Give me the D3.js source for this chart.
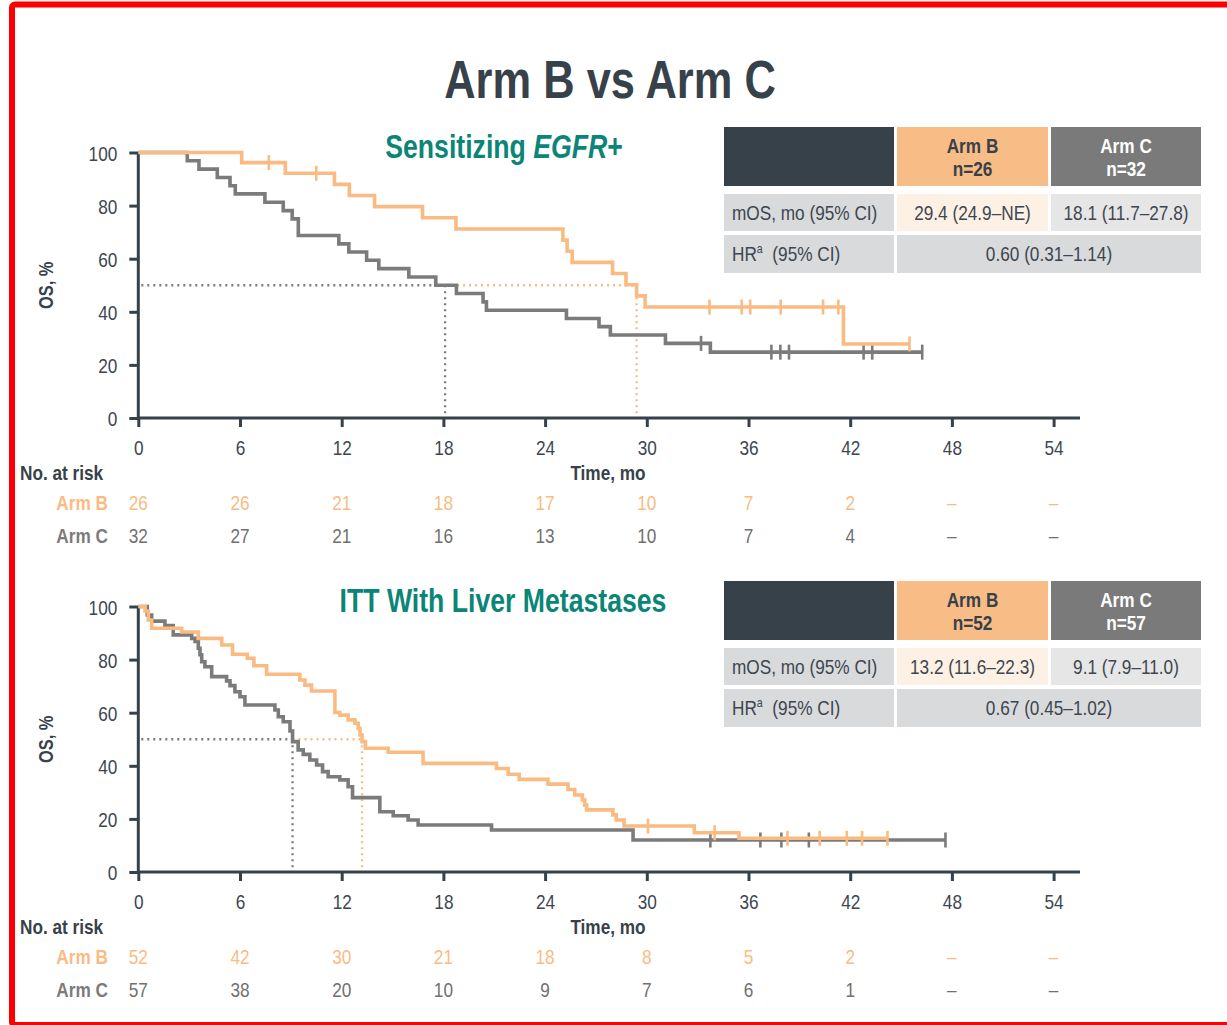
<!DOCTYPE html>
<html>
<head>
<meta charset="utf-8">
<script src="https://cdn.jsdelivr.net/npm/d3@7"></script>
<style>
  body { margin: 0; background: #fff; }
  svg { display: block; }
</style>
</head>
<body>
<svg id="chart" width="1227" height="1025"></svg>
<script>
// ---------------- data ----------------
const monthTicks = [0, 6, 12, 18, 24, 30, 36, 42, 48, 54];
const osTicks = [0, 20, 40, 60, 80, 100];

// Sensitizing EGFR+ : Kaplan-Meier steps [month, OS %]
const egfrArmB = [[0,100],[6.1,96.2],[8.67,92.2],[11.57,88.0],[12.45,83.8],[13.94,79.6],[16.77,75.4],[18.74,71.2],
  [25.05,67.0],[25.3,62.8],[25.6,58.6],[27.98,54.4],[28.77,50.2],[29.4,46.0],[29.9,41.8],[41.6,27.9],[45.5,27.9]];
const egfrArmBCensor = [7.7, 10.5, 33.7, 35.6, 36.1, 37.9, 40.4, 41.3, 45.5];
const egfrArmC = [[0,100],[2.89,96.9],[3.58,93.75],[4.66,90.6],[5.41,87.5],[5.72,84.4],[7.47,81.25],[8.55,78.1],
  [9.08,75.0],[9.44,68.75],[11.83,65.6],[12.42,62.5],[13.47,59.4],[14.19,56.25],[15.96,53.1],[17.55,50.0],
  [18.77,46.9],[20.34,43.75],[20.54,40.6],[25.26,37.5],[27.18,34.4],[27.85,31.25],[31.1,28.1],[33.75,24.8],[46.25,24.8]];
const egfrArmCCensor = [33.2, 37.35, 37.88, 38.39, 42.79, 43.3, 46.25];
const egfrRiskB = ["26", "26", "21", "18", "17", "10", "7", "2", "–", "–"];
const egfrRiskC = ["32", "27", "21", "16", "13", "10", "7", "4", "–", "–"];
const egfrN = ["n=26", "n=32"];
const egfrMOS = [29.4, 18.1];
const egfrMOSText = ["29.4 (24.9–NE)", "18.1 (11.7–27.8)"];
const egfrHR = "0.60 (0.31–1.14)";

// ITT with liver metastases : Kaplan-Meier steps [month, OS %]
const liverArmB = [[0,100],[0.4,98.3],[0.59,94.9],[0.79,91.8],[2.56,90.4],[3.54,88.0],[4.92,85.5],[5.56,82.0],
  [6.43,80.5],[6.82,77.7],[7.57,74.5],[9.53,72.3],[9.83,70.4],[10.22,68.2],[11.6,60.1],[11.89,59.1],[12.38,57.3],
  [12.78,56.0],[12.97,54.1],[13.08,51.6],[13.2,49.1],[13.4,46.6],[14.74,45.1],[16.8,40.9],[21.13,39.0],[21.82,36.8],
  [22.47,34.9],[24.17,33.1],[25.35,31.1],[25.75,29.0],[26.2,27.1],[26.34,25.2],[26.45,23.4],[28.0,21.5],[28.2,19.6],
  [28.66,17.3],[32.8,14.8],[35.44,12.7],[44.2,12.7]];
const liverArmBCensor = [30.07, 34.0, 38.3, 40.2, 41.8, 42.7, 44.2];
const liverArmC = [[0,100],[0.53,96.8],[0.79,94.5],[1.57,92.8],[2.06,89.3],[3.15,88.0],[3.35,86.8],[3.54,84.3],
  [3.64,81.8],[3.74,79.2],[3.93,77.3],[4.33,73.6],[5.21,72.0],[5.41,70.2],[5.7,67.9],[6.0,66.0],[6.29,62.9],
  [8.06,61.0],[8.26,58.5],[8.55,56.6],[8.95,53.1],[9.1,49.1],[9.43,46.0],[9.73,44.3],[10.12,42.2],[10.52,40.3],
  [10.87,37.8],[11.2,35.9],[11.89,34.7],[12.38,32.1],[12.64,28.0],[14.25,22.7],[15.04,21.2],[15.92,19.6],
  [16.51,17.7],[20.84,15.8],[29.19,12.05],[47.62,12.05]];
const liverArmCCensor = [33.75, 36.7, 37.94, 39.56, 47.62];
const liverRiskB = ["52", "42", "30", "21", "18", "8", "5", "2", "–", "–"];
const liverRiskC = ["57", "38", "20", "10", "9", "7", "6", "1", "–", "–"];
const liverN = ["n=52", "n=57"];
const liverMOS = [13.2, 9.1];
const liverMOSText = ["13.2 (11.6–22.3)", "9.1 (7.9–11.0)"];
const liverHR = "0.67 (0.45–1.02)";

// ---------------- styles ----------------
const ORANGE = "#f9bb82";
const GREY = "#7b7b7b";
const INK = "#37414a";
const TEXT = "#3d4650";
const TEAL = "#0b8577";
const FONT = "'Liberation Sans', Arial, sans-serif";
const SQUEEZE = 0.82;   // condensed face

const svg = d3.select("#chart");

// frame
svg.append("rect")
  .attr("x", 12).attr("y", 4.5).attr("width", 1260).attr("height", 1020.5)
  .attr("rx", 3).attr("fill", "none").attr("stroke", "#ff0000").attr("stroke-width", 6);

function label(g, x, y, txt, o = {}) {
  return g.append("text")
    .attr("transform", `translate(${x},${y}) scale(${SQUEEZE},1)`)
    .attr("text-anchor", o.anchor || "start")
    .attr("font-family", FONT)
    .attr("font-size", o.size || 21)
    .attr("font-weight", o.bold ? "bold" : "normal")
    .attr("font-style", o.italic ? "italic" : "normal")
    .attr("fill", o.color || TEXT)
    .text(txt);
}

// title
label(svg, 610, 98, "Arm B vs Arm C", { anchor: "middle", size: 53, bold: true, color: INK });

const x = d3.scaleLinear().domain([0, 54]).range([138.3, 1053.6]);

function levelAt(steps, t) {
  let v = steps[0][1];
  for (const s of steps) { if (s[0] <= t) v = s[1]; }
  return v;
}

function drawPanel(p) {
  const g = svg.append("g").attr("transform", `translate(0,${p.dy})`);
  const y = d3.scaleLinear().domain([0, 100]).range([418, 152.5]);

  // subtitle
  const st = label(g, p.subX, 158, "", { anchor: "middle", size: 32.5, bold: true, color: TEAL });
  p.subtitle.forEach(part => st.append("tspan").attr("font-style", part[1] ? "italic" : "normal").text(part[0]));

  // axes
  const xAxis = g.append("g").attr("transform", "translate(0,418)")
    .call(d3.axisBottom(x).tickValues(monthTicks).tickSize(9).tickSizeOuter(0));
  xAxis.select(".domain").attr("d", `M${x(0)},0H1080`);
  xAxis.selectAll("line, path").attr("stroke", INK).attr("stroke-width", 3);
  xAxis.selectAll("text")
    .attr("y", 0).attr("dy", 0)
    .attr("transform", `translate(0,37) scale(${SQUEEZE},1)`)
    .attr("font-family", FONT).attr("font-size", 21).attr("fill", TEXT);

  const yAxis = g.append("g").attr("transform", `translate(${x(0)},0)`)
    .call(d3.axisLeft(y).tickValues(osTicks).tickSize(9).tickSizeOuter(0));
  yAxis.select(".domain").attr("d", `M0,${y(100)}V${y(0)}`);
  yAxis.selectAll("line, path").attr("stroke", INK).attr("stroke-width", 3);
  yAxis.selectAll("text")
    .attr("x", 0).attr("dy", 0)
    .attr("transform", `translate(-21,7.5) scale(${SQUEEZE},1)`)
    .attr("font-family", FONT).attr("font-size", 21).attr("fill", TEXT);
  xAxis.selectAll(".domain").raise();

  // axis titles
  g.append("text")
    .attr("transform", `translate(53,${y(50)}) rotate(-90) scale(${SQUEEZE},1)`)
    .attr("text-anchor", "middle").attr("font-family", FONT).attr("font-size", 20)
    .attr("font-weight", "bold").attr("fill", INK).text("OS, %");
  label(g, 608, 480, "Time, mo", { anchor: "middle", bold: true, color: INK });

  // median reference lines
  const dots = { fill: "none", "stroke-width": 2.3, "stroke-dasharray": "2,4" };
  const medB = p.mos[0], medC = p.mos[1];
  const dl = (x1, y1, x2, y2, c) => {
    const l = g.append("line").attr("x1", x1).attr("y1", y1).attr("x2", x2).attr("y2", y2).attr("stroke", c);
    Object.entries(dots).forEach(([k, v]) => l.attr(k, v));
  };
  dl(x(0) + 3, y(50), x(medC), y(50), GREY);
  dl(x(medC), y(50), x(medB), y(50), ORANGE);
  dl(x(medC), y(50), x(medC), y(0) - 2, GREY);
  dl(x(medB), y(50), x(medB), y(0) - 2, ORANGE);

  // survival curves
  const line = d3.line().x(d => x(d[0])).y(d => y(d[1])).curve(d3.curveStepAfter);
  [[p.armC, p.censC, GREY], [p.armB, p.censB, ORANGE]].forEach(([steps, cens, c]) => {
    g.append("path").datum(steps).attr("d", line)
      .attr("fill", "none").attr("stroke", c).attr("stroke-width", 3.6);
    g.selectAll(null).data(cens).enter().append("line")
      .attr("x1", d => x(d)).attr("x2", d => x(d))
      .attr("y1", d => y(levelAt(steps, d)) - 7.5).attr("y2", d => y(levelAt(steps, d)) + 7.5)
      .attr("stroke", c).attr("stroke-width", 2.6);
  });

  // numbers at risk
  label(g, 20, 480, "No. at risk", { bold: true, color: INK });
  label(g, 108, 510, "Arm B", { anchor: "end", bold: true, color: ORANGE });
  label(g, 108, 543, "Arm C", { anchor: "end", bold: true, color: GREY });
  monthTicks.forEach((m, i) => {
    label(g, x(m), 510, p.riskB[i], { anchor: "middle", color: ORANGE });
    label(g, x(m), 543, p.riskC[i], { anchor: "middle", color: "#707070" });
  });

  // summary table
  const cols = [[724, 894], [897, 1048], [1051, 1201]];
  const cell = (x0, x1, y0, y1, f) => g.append("rect").attr("x", x0).attr("y", y0)
    .attr("width", x1 - x0).attr("height", y1 - y0).attr("fill", f);
  cell(cols[0][0], cols[0][1], 127, 186, INK);
  cell(cols[1][0], cols[1][1], 127, 186, "#f8bc86");
  cell(cols[2][0], cols[2][1], 127, 186, "#7a7a7a");
  cell(cols[0][0], cols[0][1], 194, 231, "#d9dadb");
  cell(cols[1][0], cols[1][1], 194, 231, "#fdf1e5");
  cell(cols[2][0], cols[2][1], 194, 231, "#e6e6e6");
  cell(cols[0][0], cols[0][1], 235, 273, "#d9dadb");
  cell(cols[1][0], cols[2][1], 235, 273, "#d9dadb");

  const cB = (cols[1][0] + cols[1][1]) / 2, cC = (cols[2][0] + cols[2][1]) / 2;
  label(g, cB, 152.5, "Arm B", { anchor: "middle", bold: true, color: INK });
  label(g, cB, 175.5, p.n[0], { anchor: "middle", bold: true, color: INK });
  label(g, cC, 152.5, "Arm C", { anchor: "middle", bold: true, color: "#ffffff" });
  label(g, cC, 175.5, p.n[1], { anchor: "middle", bold: true, color: "#ffffff" });
  label(g, 732, 220, "mOS, mo (95% CI)", {});
  label(g, cB, 220, p.mosText[0], { anchor: "middle" });
  label(g, cC, 220, p.mosText[1], { anchor: "middle" });
  const hr = label(g, 732, 261, "HR", {});
  hr.append("tspan").attr("font-size", 13).attr("dy", -8).text("a");
  hr.append("tspan").attr("dy", 8).text("\u00a0 (95% CI)");
  label(g, (cols[1][0] + cols[2][1]) / 2, 261, p.hr, { anchor: "middle" });
}

drawPanel({
  dy: 0, subX: 504, subtitle: [["Sensitizing ", false], ["EGFR", true], ["+", false]],
  armB: egfrArmB, censB: egfrArmBCensor, armC: egfrArmC, censC: egfrArmCCensor,
  riskB: egfrRiskB, riskC: egfrRiskC, n: egfrN, mos: egfrMOS, mosText: egfrMOSText, hr: egfrHR
});
drawPanel({
  dy: 454, subX: 503, subtitle: [["ITT With Liver Metastases", false]],
  armB: liverArmB, censB: liverArmBCensor, armC: liverArmC, censC: liverArmCCensor,
  riskB: liverRiskB, riskC: liverRiskC, n: liverN, mos: liverMOS, mosText: liverMOSText, hr: liverHR
});
</script>
</body>
</html>
